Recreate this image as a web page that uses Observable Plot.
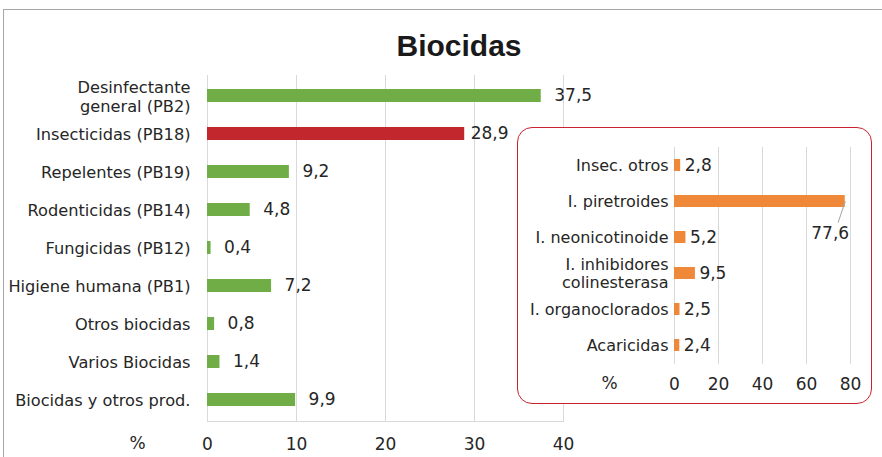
<!DOCTYPE html>
<html>
<head>
<meta charset="utf-8">
<script src="https://cdn.jsdelivr.net/npm/d3@7"></script>
<script src="https://cdn.jsdelivr.net/npm/@observablehq/plot@0.6"></script>
<style>
  html, body { margin: 0; padding: 0; background: #fff; }
  #root { position: relative; width: 882px; height: 457px; overflow: hidden; font-family: "DejaVu Sans", sans-serif; color: #262626; }
  .outer { position: absolute; left: 3px; top: 9px; width: 2000px; height: 2000px; border-left: 1px solid #A6A6A6; border-top: 1px solid #A6A6A6; }
  #main { position: absolute; left: 0; top: 0; }
  .title { position: absolute; left: 459px; top: 31px; transform: translateX(-50%); font-family: "Liberation Sans", Arial, sans-serif; font-weight: bold; font-size: 30px; line-height: 30px; color: #1a1a1a; white-space: nowrap; }
  .box { position: absolute; left: 517px; top: 127px; width: 355px; height: 277px; box-sizing: border-box; border: 1.5px solid #C8232E; border-radius: 15px; background: #fff; }
  #inset { position: absolute; left: 517px; top: 127px; }
  svg { overflow: visible; }
</style>
</head>
<body>
<div id="root">
  <div class="outer"></div>
  <div id="main"></div>
  <div class="title">Biocidas</div>
  <div class="box"></div>
  <div id="inset"></div>
</div>
<script>
// Main chart data
const categories = [
  "Desinfectante\ngeneral (PB2)",
  "Insecticidas (PB18)",
  "Repelentes (PB19)",
  "Rodenticidas (PB14)",
  "Fungicidas (PB12)",
  "Higiene humana (PB1)",
  "Otros biocidas",
  "Varios Biocidas",
  "Biocidas y otros prod."
];
const values = [37.5, 28.9, 9.2, 4.8, 0.4, 7.2, 0.8, 1.4, 9.9];
const highlighted = "Insecticidas (PB18)";
const mainTicks = [0, 10, 20, 30, 40];

// Inset chart data
const insetCategories = [
  "Insec. otros",
  "I. piretroides",
  "I. neonicotinoide",
  "I. inhibidores\ncolinesterasa",
  "I. organoclorados",
  "Acaricidas"
];
const insetValues = [2.8, 77.6, 5.2, 9.5, 2.5, 2.4];
const insetTicks = [0, 20, 40, 60, 80];
const unitLabel = "%";

const GREEN = "#70AD47", RED = "#C1272D", ORANGE = "#F0883A", GRID = "#D9D9D9", TEXT = "#262626";
const fmt = v => v.toFixed(1).replace(".", ",");

const mainData = categories.map((c, i) => ({cat: c, value: values[i]}));
const insetData = insetCategories.map((c, i) => ({cat: c, value: insetValues[i]}));

const main = Plot.plot({
  width: 882, height: 457,
  marginLeft: 207, marginRight: 319, marginTop: 75, marginBottom: 36,
  style: {fontFamily: "DejaVu Sans", fontSize: "16px", color: TEXT, background: "transparent"},
  x: {domain: [0, 40], label: null},
  y: {domain: categories, paddingInner: 0.65, paddingOuter: 0.325, label: null},
  color: {type: "identity"},
  marks: [
    Plot.gridX(mainTicks, {stroke: GRID, strokeOpacity: 1}),
    Plot.frame({anchor: "bottom", stroke: GRID, strokeOpacity: 1}),
    Plot.barX(mainData, {x: "value", y: "cat", fill: d => d.cat === highlighted ? RED : GREEN}),
    Plot.text(mainData, {filter: d => d.cat !== highlighted, x: "value", y: "cat", text: d => fmt(d.value), dx: 13, textAnchor: "start", fontSize: 17, fill: TEXT}),
    Plot.text(mainData, {filter: d => d.cat === highlighted, x: "value", y: "cat", text: d => fmt(d.value), dx: 6, textAnchor: "start", fontSize: 17, fill: TEXT}),
    Plot.axisY({tickSize: 0, tickPadding: 17, fontSize: 16.2, lineHeight: 1.2, label: null, fill: TEXT}),
    Plot.axisX(mainTicks, {tickSize: 0, tickPadding: 16, fontSize: 17, label: null, fill: TEXT}),
    Plot.text([unitLabel], {frameAnchor: "bottom-left", dx: -70, dy: 22, textAnchor: "middle", lineAnchor: "middle", fontSize: 17, fill: TEXT})
  ]
});
document.getElementById("main").appendChild(main);

const inset = Plot.plot({
  width: 355, height: 277,
  marginLeft: 157, marginRight: 22, marginTop: 20, marginBottom: 40,
  style: {fontFamily: "DejaVu Sans", fontSize: "16px", color: TEXT, background: "transparent"},
  x: {domain: [0, 80], label: null},
  y: {domain: insetCategories, paddingInner: 0.66, paddingOuter: 0.33, label: null},
  marks: [
    Plot.gridX(insetTicks, {stroke: GRID, strokeOpacity: 1}),
    Plot.barX(insetData, {x: "value", y: "cat", fill: ORANGE}),
    Plot.text(insetData, {filter: d => d.value < 70, x: "value", y: "cat", text: d => fmt(d.value), dx: 4, textAnchor: "start", fontSize: 17, fill: TEXT}),
    Plot.vector(insetData, {filter: d => d.value >= 70, x: "value", y: "cat", length: 22, rotate: 198.7, anchor: "start",
      shape: {draw(context, l) { context.moveTo(0, 0); context.lineTo(0, -l); }},
      stroke: "#A6A6A6", strokeWidth: 1, fill: "none"}),
    Plot.text(insetData, {filter: d => d.value >= 70, x: "value", y: "cat", text: d => fmt(d.value), dx: -15, dy: 32, textAnchor: "middle", fontSize: 17, fill: TEXT}),
    Plot.axisY({tickSize: 0, tickPadding: 6, fontSize: 16, lineHeight: 1.08, label: null, fill: TEXT}),
    Plot.axisX(insetTicks, {tickSize: 0, tickPadding: 13, fontSize: 17, label: null, fill: TEXT}),
    Plot.text([unitLabel], {frameAnchor: "bottom-left", dx: -65, dy: 19, textAnchor: "middle", lineAnchor: "middle", fontSize: 17, fill: TEXT})
  ]
});
document.getElementById("inset").appendChild(inset);
</script>
</body>
</html>
